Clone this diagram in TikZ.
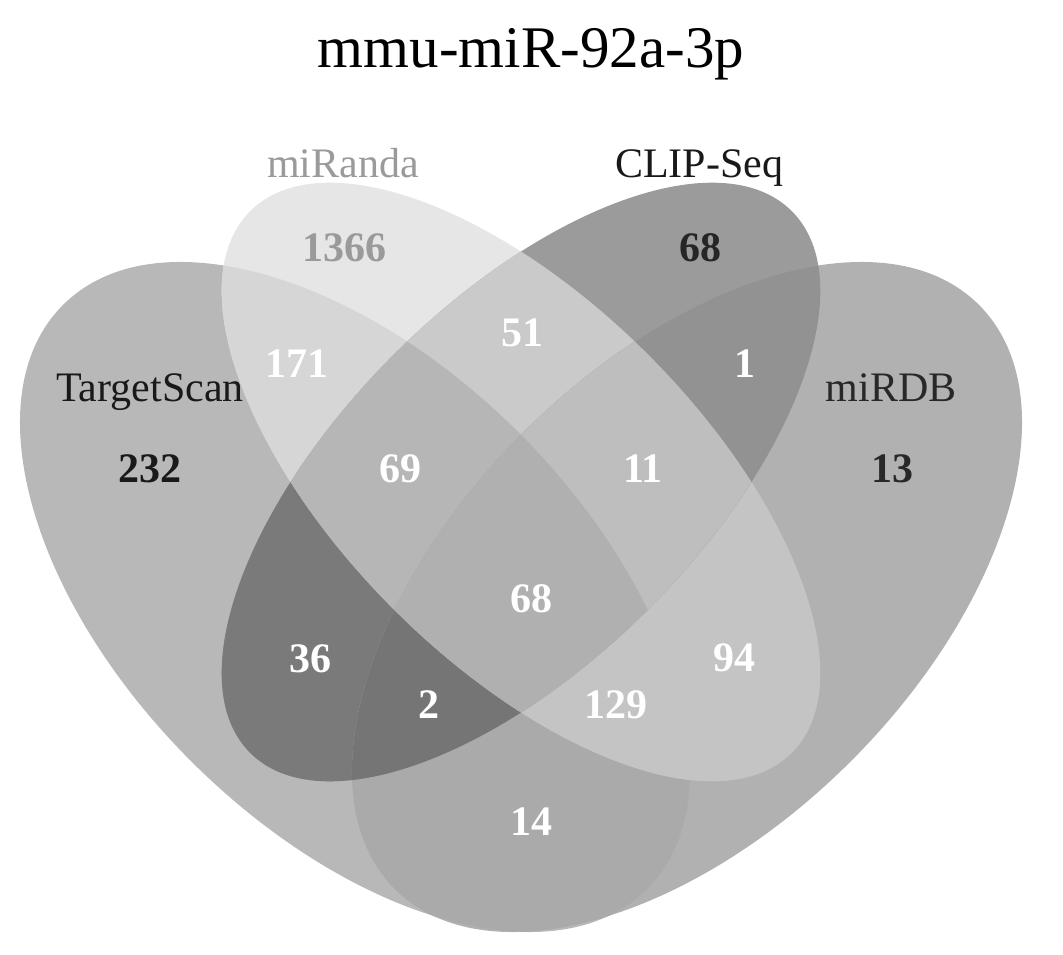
\documentclass[tikz,border=0pt]{standalone}
\usepackage{fontspec}
\setmainfont{Liberation Serif}

% the four sets
\newcommand{\ellT}{[rotate around={-45:(355,357)}] (355,357) ellipse [x radius=413, y radius=232]}
\newcommand{\ellR}{[rotate around={-45:(521,472)}] (521,472) ellipse [x radius=383, y radius=180]}
\newcommand{\ellC}{[rotate around={45:(521,472)}] (521,472) ellipse [x radius=383, y radius=180]}
\newcommand{\ellD}{[rotate around={45:(687,357)}] (687,357) ellipse [x radius=413, y radius=232]}

% region greys
\definecolor{gT}{RGB}{184,184,184}
\definecolor{gR}{RGB}{230,230,230}
\definecolor{gC}{RGB}{155,155,155}
\definecolor{gD}{RGB}{177,177,177}
\definecolor{gTR}{RGB}{214,214,214}
\definecolor{gTC}{RGB}{122,122,122}
\definecolor{gTD}{RGB}{170,170,170}
\definecolor{gRC}{RGB}{202,202,202}
\definecolor{gRD}{RGB}{196,196,196}
\definecolor{gCD}{RGB}{146,146,146}
\definecolor{gTRC}{RGB}{182,182,182}
\definecolor{gTRD}{RGB}{196,196,196}
\definecolor{gTCD}{RGB}{117,117,117}
\definecolor{gRCD}{RGB}{190,190,190}
\definecolor{gTRCD}{RGB}{176,176,176}
\definecolor{txtlight}{RGB}{154,154,154}
\definecolor{txtdark}{RGB}{40,40,40}

\tikzset{
  setname/.style={font=\fontsize{42}{48}\selectfont, anchor=base, inner sep=0pt},
  count/.style={font=\fontsize{42}{48}\selectfont\bfseries, anchor=base, inner sep=0pt, text=white},
}

\begin{document}
\begin{tikzpicture}[x=1pt, y=1pt]
    \useasboundingbox (0,0) rectangle (1063,954);

    % single sets
    \fill[gT] \ellT;
    \fill[gR] \ellR;
    \fill[gC] \ellC;
    \fill[gD] \ellD;

    % pairs
    \begin{scope} \clip \ellT; \fill[gTR] \ellR; \end{scope}
    \begin{scope} \clip \ellT; \fill[gTC] \ellC; \end{scope}
    \begin{scope} \clip \ellT; \fill[gTD] \ellD; \end{scope}
    \begin{scope} \clip \ellR; \fill[gRC] \ellC; \end{scope}
    \begin{scope} \clip \ellR; \fill[gRD] \ellD; \end{scope}
    \begin{scope} \clip \ellC; \fill[gCD] \ellD; \end{scope}

    % triples
    \begin{scope} \clip \ellT; \clip \ellR; \fill[gTRC] \ellC; \end{scope}
    \begin{scope} \clip \ellT; \clip \ellR; \fill[gTRD] \ellD; \end{scope}
    \begin{scope} \clip \ellT; \clip \ellC; \fill[gTCD] \ellD; \end{scope}
    \begin{scope} \clip \ellR; \clip \ellC; \fill[gRCD] \ellD; \end{scope}

    % all four
    \begin{scope} \clip \ellT; \clip \ellR; \clip \ellC; \fill[gTRCD] \ellD; \end{scope}

    % title and set names
    \node[anchor=base, inner sep=0pt, font=\fontsize{59}{66}\selectfont] (title) at (531,886) {mmu-miR-92a-3p};
    \node[setname, text=txtlight] (miranda) at (343,776) {miRanda};
    \node[setname, text=black!90] (clipseq) at (699,776) {CLIP-Seq};
    \node[setname, text=black!90] (targetscan) at (150,552) {TargetScan};
    \node[setname, text=txtdark] (mirdb) at (891,552) {miRDB};

    % counts
    \node[count, text=txtlight] (nR) at (344,692) {1366};
    \node[count, text=black!85] (nC) at (700,692) {68};
    \node[count, text=black!90] (nT) at (150,471) {232};
    \node[count, text=txtdark] (nD) at (892,471) {13};
    \node[count] (nTR) at (297,576) {171};
    \node[count] (nRC) at (522,607) {51};
    \node[count] (nCD) at (745,576) {1};
    \node[count] (nTRC) at (400,471) {69};
    \node[count] (nRCD) at (643,471) {11};
    \node[count] (nTRCD) at (531,341) {68};
    \node[count] (nTC) at (310,281) {36};
    \node[count] (nRD) at (734,282) {94};
    \node[count] (nTCD) at (429,236) {2};
    \node[count] (nTRD) at (616,236) {129};
    \node[count] (nTD) at (531,119) {14};
\end{tikzpicture}
\end{document}
